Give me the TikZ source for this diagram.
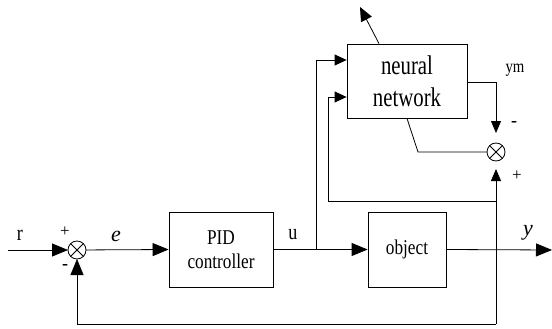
\documentclass[tikz,border=0pt]{standalone}
\usepackage{fontspec}
\setmainfont{Liberation Serif}
\newfontfamily\condfont[FakeStretch=0.82]{Liberation Serif}
\newfontfamily\nnfont[FakeStretch=0.77]{Liberation Serif}
\usetikzlibrary{arrows.meta}
\begin{document}
\begin{tikzpicture}[x=1pt,y=-1pt, line width=0.8pt,
  >={Triangle[length=16pt,width=13pt]},
  smallarrow/.style={-{Triangle[length=12pt,width=10pt]}},
  blk/.style={draw, rectangle, inner sep=0pt, align=center,
    font=\condfont\fontsize{21}{24}\selectfont},
  sumnode/.style={draw, circle, minimum size=18pt, inner sep=0pt, outer sep=0pt},
  lbl/.style={inner sep=0pt, font=\condfont\fontsize{22}{24}\selectfont},
  sgn/.style={inner sep=0pt, font=\fontsize{17}{18}\selectfont}]
\useasboundingbox (0,0) rectangle (552,329);

% blocks
\node[blk, minimum width=104pt, minimum height=75pt] (pid) at (221,249.5) {PID\\controller};
\node[blk, minimum width=78pt, minimum height=75pt] (obj) at (407,249.5) {object};
\node[blk, minimum width=120pt, minimum height=74pt,
  font=\nnfont\fontsize{27}{32}\selectfont] (nn) at (407,81) {neural\\network};

% summing junctions
\node[sumnode] (s1) at (77,250) {};
\draw (s1.north west) -- (s1.south east) (s1.north east) -- (s1.south west);
\node[sumnode] (s2) at (496,152) {};
\draw (s2.north west) -- (s2.south east) (s2.north east) -- (s2.south west);

% coordinates
\coordinate (rin) at (8,250);
\coordinate (uj) at (316,250);
\coordinate (yout) at (552,250);
\coordinate (fbb) at (496,324);
\coordinate (fbj) at (496,201);
\coordinate (nnk) at (418,152);
\coordinate (learn) at (360,7);

% connectors
\draw[->] (rin) -- (s1);
\draw[->] (s1) -- (pid.west);
\draw[->] (pid.east) -- (obj.west);
\draw[->] (obj.east) -- (yout);
\draw[-{Triangle[length=12pt,width=11pt]}] (uj) |- ([yshift=21pt]nn.west);
\draw[-{Triangle[length=12pt,width=11pt]}] (fbj) -| ([xshift=-18pt,yshift=-16pt]nn.west) -- ([yshift=-16pt]nn.west);
\draw[->] (fbb) -| (s1.south);
\draw[smallarrow, shorten >=8pt] (fbb) -- (s2.south);
\draw[smallarrow, shorten >=10pt] ([yshift=-1pt]nn.east) -| (s2.north);
\draw (nn.south) -- (nnk) -- (s2.west);
\draw[-{Triangle[length=14pt,width=12pt]}] ([xshift=-28pt]nn.north) -- (learn);

% labels
\node[lbl] (lr) at (20,235) {r};
\node[sgn] (lp1) at (65,232) {+};
\node[sgn, font=\bfseries\fontsize{18}{18}\selectfont] (lm1) at (65,267) {-};
\node[lbl, font=\itshape\fontsize{22}{24}\selectfont] (le) at (116,236) {e};
\node[lbl] (lu) at (293,235) {u};
\node[lbl, font=\itshape\fontsize{22}{24}\selectfont] (ly) at (528,233) {y};
\node[lbl, font=\condfont\fontsize{18}{20}\selectfont] (lym) at (515,70) {ym};
\node[sgn, font=\bfseries\fontsize{18}{18}\selectfont] (lm2) at (514,124) {-};
\node[sgn] (lp2) at (517,176) {+};
\end{tikzpicture}
\end{document}
